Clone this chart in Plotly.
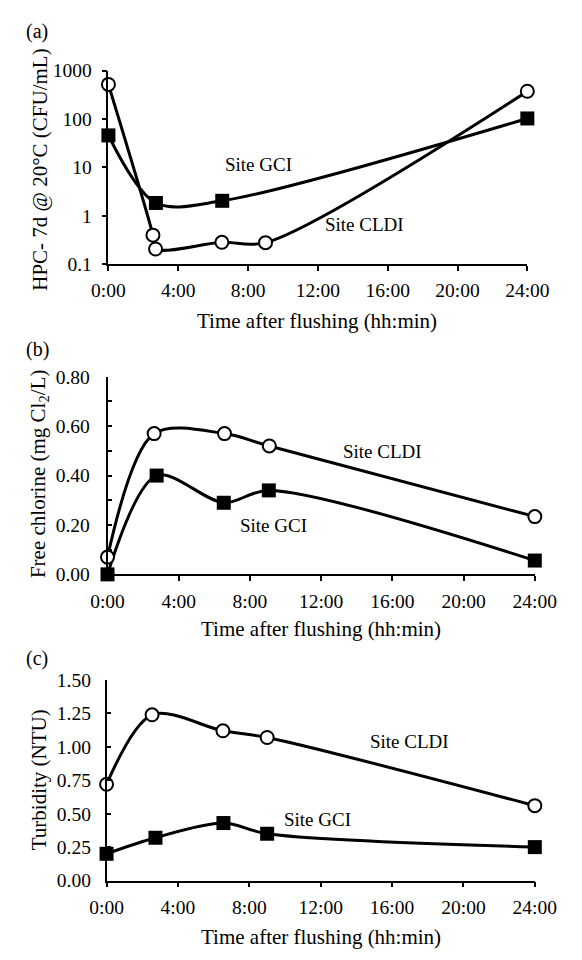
import plotly.graph_objects as go

# ---------------- data ----------------
# panel (a): HPC, log scale
t_a_cldi = [0, 2.55, 2.7, 6.5, 9.0, 24]
hpc_cldi = [520, 0.40, 0.207, 0.285, 0.28, 375]
t_a_gci = [0, 2.72, 6.52, 24]
hpc_gci = [46, 1.85, 2.05, 103]

# panel (b): free chlorine
t_b_cldi = [0, 2.62, 6.57, 9.09, 24]
cl_cldi = [0.07, 0.57, 0.57, 0.52, 0.234]
t_b_gci = [0, 2.76, 6.53, 9.06, 24]
cl_gci = [0.00, 0.40, 0.29, 0.34, 0.056]

# panel (c): turbidity
t_c_cldi = [0, 2.55, 6.52, 9.0, 24]
tu_cldi = [0.72, 1.24, 1.12, 1.07, 0.56]
t_c_gci = [0, 2.74, 6.55, 9.0, 24]
tu_gci = [0.20, 0.32, 0.43, 0.35, 0.25]

x_tickvals = [0, 4, 8, 12, 16, 20, 24]
x_ticktext = ["0:00", "4:00", "8:00", "12:00", "16:00", "20:00", "24:00"]

a_tickvals = [0.1, 1, 10, 100, 1000]
a_ticktext = ["0.1", "1", "10", "100", "1000"]
b_tickvals = [0, 0.2, 0.4, 0.6, 0.8]
b_ticktext = ["0.00", "0.20", "0.40", "0.60", "0.80"]
b_minor_vals = [0.1, 0.3, 0.5, 0.7]
c_tickvals = [0, 0.25, 0.5, 0.75, 1.0, 1.25, 1.5]
c_ticktext = ["0.00", "0.25", "0.50", "0.75", "1.00", "1.25", "1.50"]

# ---------------- styling ----------------
W, H = 582, 960
FONT = "Liberation Serif"
TICK_SIZE = 19.5
TITLE_SIZE = 21
ANN_SIZE = 19


def px(x):
    return x / W


def py(y):
    return 1 - y / H


circle = dict(symbol="circle", size=13, color="white", line=dict(color="black", width=2))
square = dict(symbol="square", size=14, color="black", line=dict(color="black", width=0))
line_style = dict(color="black", width=3, shape="spline", smoothing=0.9)

fig = go.Figure()


def add(x, y, marker, xa, ya):
    fig.add_trace(go.Scatter(x=x, y=y, mode="lines+markers", marker=marker,
                             line=line_style, xaxis=xa, yaxis=ya,
                             cliponaxis=False, showlegend=False))


add(t_a_gci, hpc_gci, square, "x", "y")
add(t_a_cldi, hpc_cldi, circle, "x", "y")
add(t_b_gci, cl_gci, square, "x2", "y2")
add(t_b_cldi, cl_cldi, circle, "x2", "y2")
add(t_c_gci, tu_gci, square, "x3", "y3")
add(t_c_cldi, tu_cldi, circle, "x3", "y3")

common_x = dict(range=[0, 24], tickvals=x_tickvals, ticktext=x_ticktext,
                showline=True, linecolor="black", linewidth=1.5,
                ticks="outside", ticklen=5, tickwidth=1.5, tickcolor="black",
                showgrid=False, zeroline=False,
                tickfont=dict(family=FONT, size=TICK_SIZE, color="black"),
                ticklabelstandoff=3)
common_y = dict(showline=True, linecolor="black", linewidth=1.5,
                ticklen=5, tickwidth=1.5, tickcolor="black",
                showgrid=False, zeroline=False,
                tickfont=dict(family=FONT, size=TICK_SIZE, color="black"))

fig.update_layout(
    width=W, height=H,
    margin=dict(l=0, r=0, t=0, b=0),
    paper_bgcolor="white", plot_bgcolor="white",
    font=dict(family=FONT, color="black"),
    xaxis=dict(domain=[px(98), px(547)], anchor="y", **common_x),
    yaxis=dict(domain=[py(260), py(62)], anchor="x", type="log", range=[-1, 3],
               tickvals=a_tickvals, ticktext=a_ticktext, ticks="outside",
               ticklabelstandoff=6, **common_y),
    xaxis2=dict(domain=[px(97), px(555)], anchor="y2", **common_x),
    yaxis2=dict(domain=[py(577), py(375)], anchor="x2", range=[0, 0.8],
                tickvals=b_tickvals, ticktext=b_ticktext, ticks="inside",
                minor=dict(tickvals=b_minor_vals, ticks="inside", ticklen=5,
                           tickwidth=1.5, tickcolor="black", showgrid=False),
                ticklabelstandoff=12, **common_y),
    xaxis3=dict(domain=[px(96), px(555)], anchor="y3", **common_x),
    yaxis3=dict(domain=[py(890), py(685)], anchor="x3", range=[0, 1.5],
                tickvals=c_tickvals, ticktext=c_ticktext, ticks="inside",
                ticklabelstandoff=10, **common_y),
)


def text(s, x, y, size, angle=0, xanchor="center"):
    fig.add_annotation(text=s, x=px(x), y=py(y), xref="paper", yref="paper",
                       showarrow=False, xanchor=xanchor, yanchor="middle",
                       textangle=angle,
                       font=dict(family=FONT, size=size, color="black"))


# panel labels
text("(a)", 7, 22, 20, xanchor="left")
text("(b)", 7, 347, 20, xanchor="left")
text("(c)", 7, 663, 20, xanchor="left")

# y-axis titles
text("HPC- 7d @ 20°C (CFU/mL)", 25, 163, TITLE_SIZE, angle=-90)
text("Free chlorine (mg Cl<sub>2</sub>/L)", 23, 474, TITLE_SIZE, angle=-90)
text("Turbidity (NTU)", 23, 787, TITLE_SIZE, angle=-90)

# x-axis titles
text("Time after flushing (hh:min)", 322, 318, TITLE_SIZE)
text("Time after flushing (hh:min)", 326, 633, TITLE_SIZE)
text("Time after flushing (hh:min)", 326, 948, TITLE_SIZE)

# series labels
text("Site GCI", 259, 158, ANN_SIZE)
text("Site CLDI", 372, 219, ANN_SIZE)
text("Site CLDI", 392, 451, ANN_SIZE)
text("Site GCI", 275, 527, ANN_SIZE)
text("Site CLDI", 421, 748, ANN_SIZE)
text("Site GCI", 322, 828, ANN_SIZE)

fig.write_html("out.html")
